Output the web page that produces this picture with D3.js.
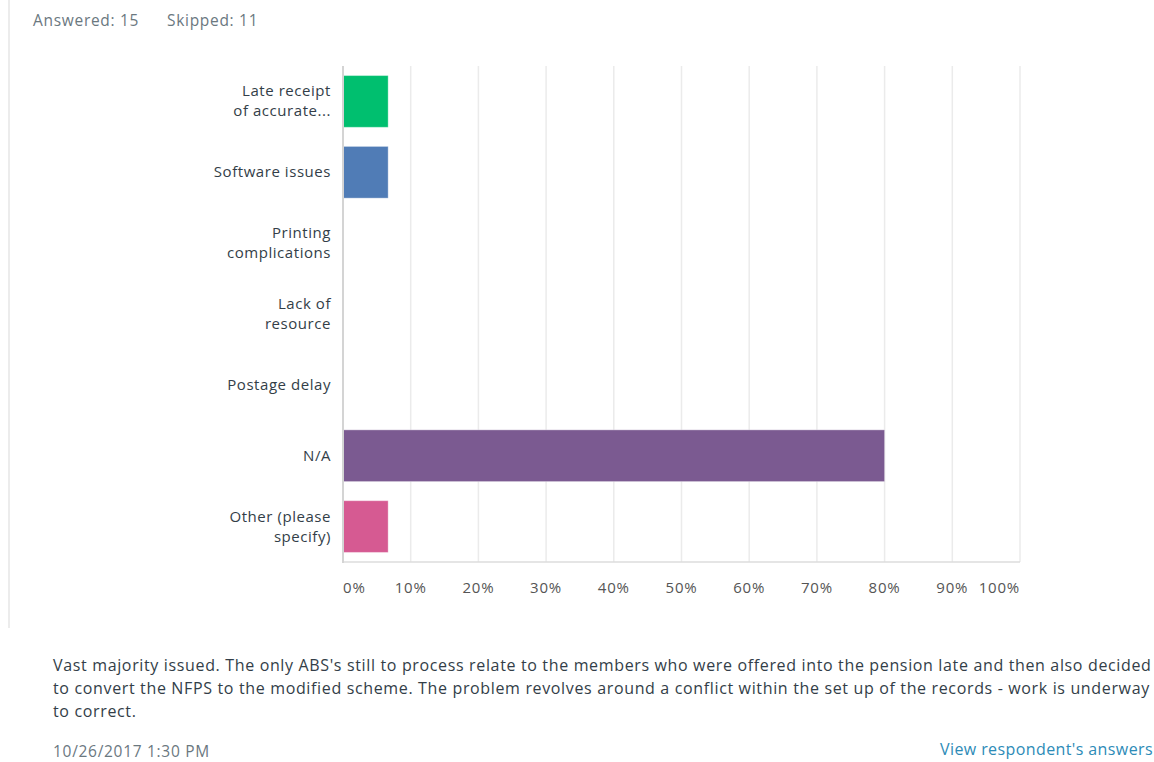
<!DOCTYPE html>
<html>
<head>
<meta charset="utf-8">
<title>Survey question</title>
<script src="https://d3js.org/d3.v7.min.js"></script>
<style>
  body { margin: 0; background: #fff; }
  svg text { font-family: "Open Sans", sans-serif; }
  .grid line { stroke: #ebebeb; stroke-width: 1.5; }
  .tick-label { fill: #555; font-size: 15px; letter-spacing: 0.8px; }
  .cat-label { fill: #333e48; font-size: 15px; letter-spacing: 0.55px; }
  .meta { fill: #6b787f; font-size: 15.5px; letter-spacing: 0.7px; }
  .comment { fill: #333e48; font-size: 16px; letter-spacing: 0.65px; }
  .link { fill: #2d8bb7; font-size: 16px; letter-spacing: 0.4px; }
</style>
</head>
<body>
<div id="chart"></div>
<script>
// ---- data ----
const categories = [
  ["Late receipt", "of accurate..."],
  ["Software issues"],
  ["Printing", "complications"],
  ["Lack of", "resource"],
  ["Postage delay"],
  ["N/A"],
  ["Other (please", "specify)"]
];
const percents = [6.67, 6.67, 0, 0, 0, 80, 6.67];
const colors = ["#00bf6f", "#507cb6", "#f9be00", "#6bc8cd", "#ff8b4f", "#7b5a91", "#d65a92"];
const ticks = [0, 10, 20, 30, 40, 50, 60, 70, 80, 90, 100];
const header = ["Answered: 15", "Skipped: 11"];
const commentLines = [
  "Vast majority issued. The only ABS's still to process relate to the members who were offered into the pension late and then also decided",
  "to convert the NFPS to the modified scheme. The problem revolves around a conflict within the set up of the records - work is underway",
  "to correct."
];
const stamp = "10/26/2017 1:30 PM";
const link = "View respondent's answers";

// ---- svg ----
const W = 1154, H = 762;
const svg = d3.select("#chart").append("svg")
    .attr("width", W)
    .attr("height", H);

// left border of the question panel
svg.append("line")
    .attr("x1", 9).attr("x2", 9)
    .attr("y1", 0).attr("y2", 628)
    .attr("stroke", "#ececec")
    .attr("stroke-width", 2);

// header
svg.append("text").attr("class", "meta")
    .attr("x", 33).attr("y", 26).text(header[0]);
svg.append("text").attr("class", "meta")
    .attr("x", 167).attr("y", 26).text(header[1]);

// ---- scales ----
const x = d3.scaleLinear().domain([0, 100]).range([343, 1020]);
const y = d3.scaleBand()
    .domain(d3.range(categories.length))
    .range([66, 562])
    .paddingInner(0.27)
    .paddingOuter(0.135);

// gridlines
svg.append("g").attr("class", "grid")
  .selectAll("line")
  .data(ticks.slice(1))
  .join("line")
    .attr("x1", d => x(d)).attr("x2", d => x(d))
    .attr("y1", 66).attr("y2", 562);

// bottom axis line
svg.append("line")
    .attr("x1", x(0)).attr("x2", x(100))
    .attr("y1", 562).attr("y2", 562)
    .attr("stroke", "#dcdcdc").attr("stroke-width", 1.5);

// bars
svg.append("g")
  .selectAll("rect")
  .data(percents)
  .join("rect")
    .attr("x", x(0))
    .attr("y", (d, i) => y(i))
    .attr("width", d => x(d) - x(0))
    .attr("height", y.bandwidth())
    .attr("fill", (d, i) => colors[i])
    .attr("stroke", "rgba(255,255,255,0.35)")
    .attr("stroke-width", d => d > 0 ? 1 : 0);

// left axis line
svg.append("line")
    .attr("x1", x(0)).attr("x2", x(0))
    .attr("y1", 66).attr("y2", 563)
    .attr("stroke", "#d4d4d4").attr("stroke-width", 2);

// tick labels
svg.append("g")
  .selectAll("text")
  .data(ticks)
  .join("text")
    .attr("class", "tick-label")
    .attr("x", d => d === 0 ? x(0) : d === 100 ? x(100) : x(d))
    .attr("y", 593)
    .attr("text-anchor", d => d === 0 ? "start" : d === 100 ? "end" : "middle")
    .text(d => d + "%");

// category labels
const lineH = 20;
svg.append("g")
  .selectAll("text")
  .data(categories)
  .join("text")
    .attr("class", "cat-label")
    .attr("text-anchor", "end")
    .attr("y", (d, i) => y(i) + y.bandwidth() / 2 - (d.length - 1) * lineH / 2 + 5)
    .each(function(d) {
      d3.select(this).selectAll("tspan")
        .data(d)
        .join("tspan")
          .attr("x", 331)
          .attr("dy", (t, j) => j === 0 ? 0 : lineH)
          .text(t => t);
    });

// comment
svg.append("text").attr("class", "comment")
  .selectAll("tspan")
  .data(commentLines)
  .join("tspan")
    .attr("x", 53)
    .attr("y", (d, i) => 671 + i * 23)
    .text(d => d);

svg.append("text").attr("class", "meta")
    .attr("x", 53).attr("y", 757).text(stamp);

svg.append("text").attr("class", "link")
    .attr("x", 1153).attr("y", 755)
    .attr("text-anchor", "end")
    .text(link);
</script>
</body>
</html>
